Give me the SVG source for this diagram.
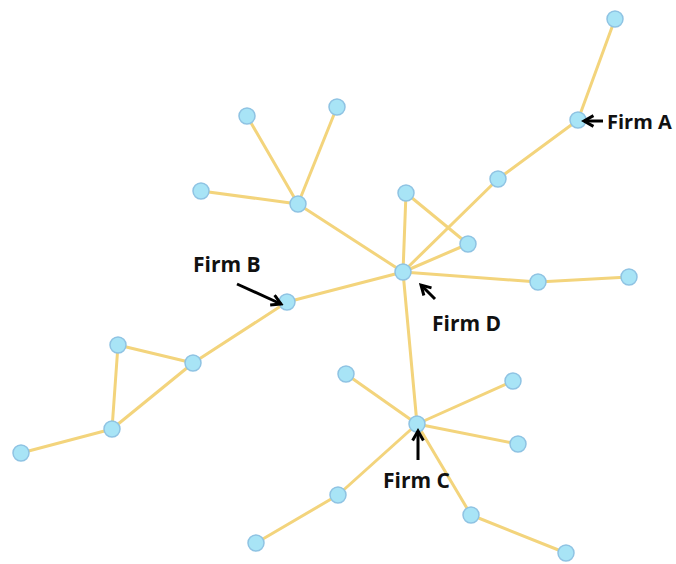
<svg xmlns="http://www.w3.org/2000/svg" width="676" height="564" viewBox="0 0 676 564">
  <defs>
    <style>
      .edge { stroke: #f3d47c; stroke-width: 3; stroke-linecap: round; fill: none; }
      .node circle { fill: #a8e4f6; stroke: #8fc3e3; stroke-width: 1.5; }
      .label { font-family: "Open Sans", "Liberation Sans", sans-serif; font-weight: bold; font-size: 21px; fill: #111; }
      .pointer { stroke: #000; stroke-width: 3; fill: none; marker-end: url(#head); }
    </style>
    <marker id="head" viewBox="0 0 10 10" refX="8" refY="5" markerWidth="4.5" markerHeight="4.5" orient="auto" markerUnits="strokeWidth">
      <path d="M1,1 L8,5 L1,9" fill="none" stroke="#000" stroke-width="2.2"/>
    </marker>
  </defs>
  <rect width="676" height="564" fill="#ffffff"/>

  <g id="connectors">
    <line class="edge" x1="615" y1="19" x2="578" y2="120"/>
    <line class="edge" x1="578" y1="120" x2="498" y2="179"/>
    <line class="edge" x1="498" y1="179" x2="403" y2="272"/>
    <line class="edge" x1="406" y1="193" x2="403" y2="272"/>
    <line class="edge" x1="406" y1="193" x2="468" y2="244"/>
    <line class="edge" x1="468" y1="244" x2="403" y2="272"/>
    <line class="edge" x1="403" y1="272" x2="538" y2="282"/>
    <line class="edge" x1="538" y1="282" x2="629" y2="277"/>
    <line class="edge" x1="403" y1="272" x2="287" y2="302"/>
    <line class="edge" x1="403" y1="272" x2="298" y2="204"/>
    <line class="edge" x1="298" y1="204" x2="247" y2="116"/>
    <line class="edge" x1="298" y1="204" x2="337" y2="107"/>
    <line class="edge" x1="298" y1="204" x2="201" y2="191"/>
    <line class="edge" x1="287" y1="302" x2="193" y2="363"/>
    <line class="edge" x1="193" y1="363" x2="118" y2="345"/>
    <line class="edge" x1="193" y1="363" x2="112" y2="429"/>
    <line class="edge" x1="118" y1="345" x2="112" y2="429"/>
    <line class="edge" x1="112" y1="429" x2="21" y2="453"/>
    <line class="edge" x1="403" y1="272" x2="417" y2="424"/>
    <line class="edge" x1="417" y1="424" x2="346" y2="374"/>
    <line class="edge" x1="417" y1="424" x2="513" y2="381"/>
    <line class="edge" x1="417" y1="424" x2="518" y2="444"/>
    <line class="edge" x1="417" y1="424" x2="338" y2="495"/>
    <line class="edge" x1="417" y1="424" x2="471" y2="515"/>
    <line class="edge" x1="338" y1="495" x2="256" y2="543"/>
    <line class="edge" x1="471" y1="515" x2="566" y2="553"/>
  </g>

  <g id="n-top" class="node"><circle cx="615" cy="19" r="8"/></g>
  <g id="firm-a" class="node"><circle cx="578" cy="120" r="8"/></g>
  <g id="n-a2" class="node"><circle cx="498" cy="179" r="8"/></g>
  <g id="n-d1" class="node"><circle cx="406" cy="193" r="8"/></g>
  <g id="n-d2" class="node"><circle cx="468" cy="244" r="8"/></g>
  <g id="firm-d" class="node"><circle cx="403" cy="272" r="8"/></g>
  <g id="n-e1" class="node"><circle cx="538" cy="282" r="8"/></g>
  <g id="n-e2" class="node"><circle cx="629" cy="277" r="8"/></g>
  <g id="n-h" class="node"><circle cx="298" cy="204" r="8"/></g>
  <g id="n-h1" class="node"><circle cx="247" cy="116" r="8"/></g>
  <g id="n-h2" class="node"><circle cx="337" cy="107" r="8"/></g>
  <g id="n-h3" class="node"><circle cx="201" cy="191" r="8"/></g>
  <g id="firm-b" class="node"><circle cx="287" cy="302" r="8"/></g>
  <g id="n-t1" class="node"><circle cx="193" cy="363" r="8"/></g>
  <g id="n-t2" class="node"><circle cx="118" cy="345" r="8"/></g>
  <g id="n-t3" class="node"><circle cx="112" cy="429" r="8"/></g>
  <g id="n-t4" class="node"><circle cx="21" cy="453" r="8"/></g>
  <g id="firm-c" class="node"><circle cx="417" cy="424" r="8"/></g>
  <g id="n-c1" class="node"><circle cx="346" cy="374" r="8"/></g>
  <g id="n-c2" class="node"><circle cx="513" cy="381" r="8"/></g>
  <g id="n-c3" class="node"><circle cx="518" cy="444" r="8"/></g>
  <g id="n-c4" class="node"><circle cx="338" cy="495" r="8"/></g>
  <g id="n-c5" class="node"><circle cx="256" cy="543" r="8"/></g>
  <g id="n-c6" class="node"><circle cx="471" cy="515" r="8"/></g>
  <g id="n-c7" class="node"><circle cx="566" cy="553" r="8"/></g>

  <g id="annotations">
    <line class="pointer" x1="603" y1="121" x2="584" y2="121"/>
    <text class="label" x="607" y="129" style="font-size:20px">Firm A</text>
    <line class="pointer" x1="237" y1="284" x2="281" y2="304"/>
    <text class="label" x="193" y="272">Firm B</text>
    <line class="pointer" x1="435" y1="299" x2="421" y2="285"/>
    <text class="label" x="432" y="331">Firm D</text>
    <line class="pointer" x1="418" y1="460" x2="418" y2="431"/>
    <text class="label" x="383" y="488">Firm C</text>
  </g>
</svg>
